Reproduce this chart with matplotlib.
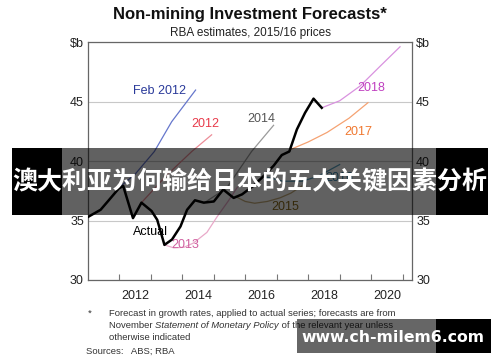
import matplotlib
matplotlib.use('Agg')
import matplotlib.pyplot as plt
from matplotlib.patches import Rectangle

plt.rcParams['font.family'] = ['Liberation Sans', 'DejaVu Sans']

# actual non-mining investment, $b
actual_x = [2011.0, 2011.4, 2011.66, 2011.98, 2012.12, 2012.43, 2012.7, 2013.02, 2013.2, 2013.43,
            2013.67, 2013.94, 2014.15, 2014.4, 2014.68, 2015.0, 2015.3, 2015.63, 2015.9, 2016.25,
            2016.57, 2016.9, 2017.16, 2017.4, 2017.64, 2017.9, 2018.17, 2018.43]
actual_y = [35.3, 35.9, 36.7, 37.7, 37.9, 35.2, 36.5, 35.8, 35.06, 32.95,
            33.4, 34.5, 35.9, 36.7, 36.5, 36.6, 37.6, 36.9, 37.2, 37.9,
            38.7, 39.6, 40.5, 40.8, 42.65, 44.05, 45.24, 44.47]

# forecasts (x years, y $b)
feb2012_x = [2012.0, 2012.5, 2013.11, 2013.66, 2014.42]
feb2012_y = [37.8, 38.9, 40.8, 43.3, 45.96]
f2012_x = [2012.7, 2013.5, 2014.3, 2014.93]
f2012_y = [36.5, 38.8, 40.8, 42.2]
f2013_x = [2013.43, 2013.73, 2014.05, 2014.35, 2014.78, 2015.1, 2015.45, 2015.75]
f2013_y = [32.95, 32.7, 32.75, 33.1, 34.0, 35.3, 36.6, 37.8]
f2014_x = [2014.7, 2015.4, 2016.2, 2016.9]
f2014_y = [36.5, 37.7, 40.8, 43.0]
f2015_x = [2015.7, 2016.0, 2016.3, 2016.7, 2017.1, 2017.45, 2017.8]
f2015_y = [37.0, 36.6, 36.45, 36.6, 36.9, 37.3, 37.9]
f2016_x = [2016.6, 2017.2, 2017.8, 2018.3, 2019.0]
f2016_y = [38.7, 38.3, 38.3, 38.7, 39.7]
f2017_x = [2017.43, 2018.0, 2018.6, 2019.3, 2019.9]
f2017_y = [40.96, 41.6, 42.4, 43.6, 44.9]
f2018_x = [2018.43, 2019.0, 2019.65, 2020.3, 2020.92]
f2018_y = [44.47, 45.06, 46.3, 48.0, 49.6]

year_labels = ['2012', '2014', '2016', '2018', '2020']

fig = plt.figure(figsize=(5, 3.62), dpi=100)
ax = fig.add_axes([88 / 500, 1 - 280 / 362, 324 / 500, 238 / 362])

# forecast lines
ax.plot(feb2012_x, feb2012_y, color='#6677cc', lw=0.9)
ax.plot(f2012_x, f2012_y, color='#ec8d98', lw=0.9)
ax.plot(f2013_x, f2013_y, color='#e9a9c9', lw=0.9)
ax.plot(f2014_x, f2014_y, color='#9a9a9a', lw=0.9)
ax.plot(f2015_x, f2015_y, color='#c4ab7a', lw=0.9)
ax.plot(f2016_x, f2016_y, color='#5aa0c0', lw=0.9)
ax.plot(f2017_x, f2017_y, color='#f5a272', lw=0.9)
ax.plot(f2018_x, f2018_y, color='#d992df', lw=0.9)
ax.plot(actual_x, actual_y, color='black', lw=1.8, zorder=5)

# line labels
lab = dict(fontsize=9, ha='center', va='center')
ax.text(2013.28, 45.9, 'Feb 2012', color='#2a3a9a', **lab)
ax.text(2014.74, 43.1, '2012', color='#e83a4a', **lab)
ax.text(2016.5, 43.5, '2014', color='#555555', **lab)
ax.text(2014.1, 32.9, '2013', color='#d060a0', **lab)
ax.text(2013.0, 34.0, 'Actual', color='black', **lab)
ax.text(2017.27, 36.1, '2015', color='#8a6a1a', **lab)
ax.text(2018.98, 38.6, '2016', color='#3a88b0', **lab)
ax.text(2019.6, 42.4, '2017', color='#f07830', **lab)
ax.text(2020.0, 46.1, '2018', color='#c040c0', **lab)

ax.set_xlim(2011.0, 2021.3)
ax.set_ylim(30, 50)
ax.set_yticks([30, 35, 40, 45, 50])
ax.set_yticklabels(['30', '35', '40', '45', '\\$b'])
ax.tick_params(axis='y', length=0, labelsize=9, labelright=True, pad=3, labelcolor='#222222')
ax.set_xticks(range(2012, 2022))
ax.set_xticklabels([])
ax.tick_params(axis='x', which='major', direction='in', length=4, color='#777777')
ax.set_xticks([2012.5, 2014.5, 2016.5, 2018.5, 2020.5], minor=True)
ax.set_xticklabels(year_labels, minor=True)
ax.tick_params(axis='x', which='minor', length=0, labelsize=9, pad=7, labelcolor='#222222')
ax.grid(axis='y', color='#c8c8c8', lw=0.8)
ax.set_axisbelow(True)
for s in ax.spines.values():
    s.set_color('#666666')
    s.set_linewidth(0.9)

# titles
fig.text(0.5, 1 - 15 / 362, 'Non-mining Investment Forecasts*', ha='center', va='center',
         fontsize=12, fontweight='bold', color='#111111')
fig.text(0.5, 1 - 33 / 362, 'RBA estimates, 2015/16 prices', ha='center', va='center',
         fontsize=8.5, color='#222222')

# footnotes
fs = 6.8
fc = '#333333'
fig.text(88 / 500, 1 - 313 / 362, '*', ha='left', va='center', fontsize=fs, color=fc)
fig.text(109 / 500, 1 - 313 / 362, 'Forecast in growth rates, applied to actual series; forecasts are from',
         ha='left', va='center', fontsize=fs, color=fc)
t1 = fig.text(109 / 500, 1 - 325 / 362, 'November ', ha='left', va='center', fontsize=fs, color=fc)
t2 = ax.annotate('Statement of Monetary Policy', xy=(1, 0), xycoords=t1, ha='left', va='bottom',
                 fontsize=fs, color=fc, style='italic', annotation_clip=False)
ax.annotate(' of the relevant year unless', xy=(1, 0), xycoords=t2, ha='left', va='bottom',
            fontsize=fs, color=fc, annotation_clip=False)
fig.text(109 / 500, 1 - 337 / 362, 'otherwise indicated', ha='left', va='center', fontsize=fs, color=fc)
fig.text(86 / 500, 1 - 351 / 362, 'Sources:   ABS; RBA', ha='left', va='center', fontsize=fs, color=fc)

# overlay banner
H = 362.0
fig.patches.append(Rectangle((12 / 500, 1 - 215 / H), 50 / 500, 67 / H, transform=fig.transFigure,
                             facecolor='black', edgecolor='none', zorder=10))
fig.patches.append(Rectangle((62 / 500, 1 - 215 / H), 374 / 500, 67 / H, transform=fig.transFigure,
                             facecolor='black', alpha=0.62, edgecolor='none', zorder=10))
fig.patches.append(Rectangle((436 / 500, 1 - 215 / H), 52 / 500, 67 / H, transform=fig.transFigure,
                             facecolor='black', edgecolor='none', zorder=10))
fig.text(0.5, 1 - 182 / H, '澳大利亚为何输给日本的五大关键因素分析', ha='center', va='center',
         fontsize=18, fontweight='bold', color='white', zorder=11,
         family=['Noto Sans CJK SC', 'DejaVu Sans'])

# watermark
fig.patches.append(Rectangle((297 / 500, 1 - 353 / H), 139 / 500, 34 / H, transform=fig.transFigure,
                             facecolor='black', alpha=0.6, edgecolor='none', zorder=10))
fig.patches.append(Rectangle((436 / 500, 1 - 353 / H), 55 / 500, 34 / H, transform=fig.transFigure,
                             facecolor='black', edgecolor='none', zorder=10))
fig.text(393 / 500, 1 - 337 / H, 'www.ch-milem6.com', ha='center', va='center', fontsize=11.3,
         fontweight='bold', color='white', zorder=11, family=['DejaVu Sans'])

fig.savefig('out.png', dpi=100)
